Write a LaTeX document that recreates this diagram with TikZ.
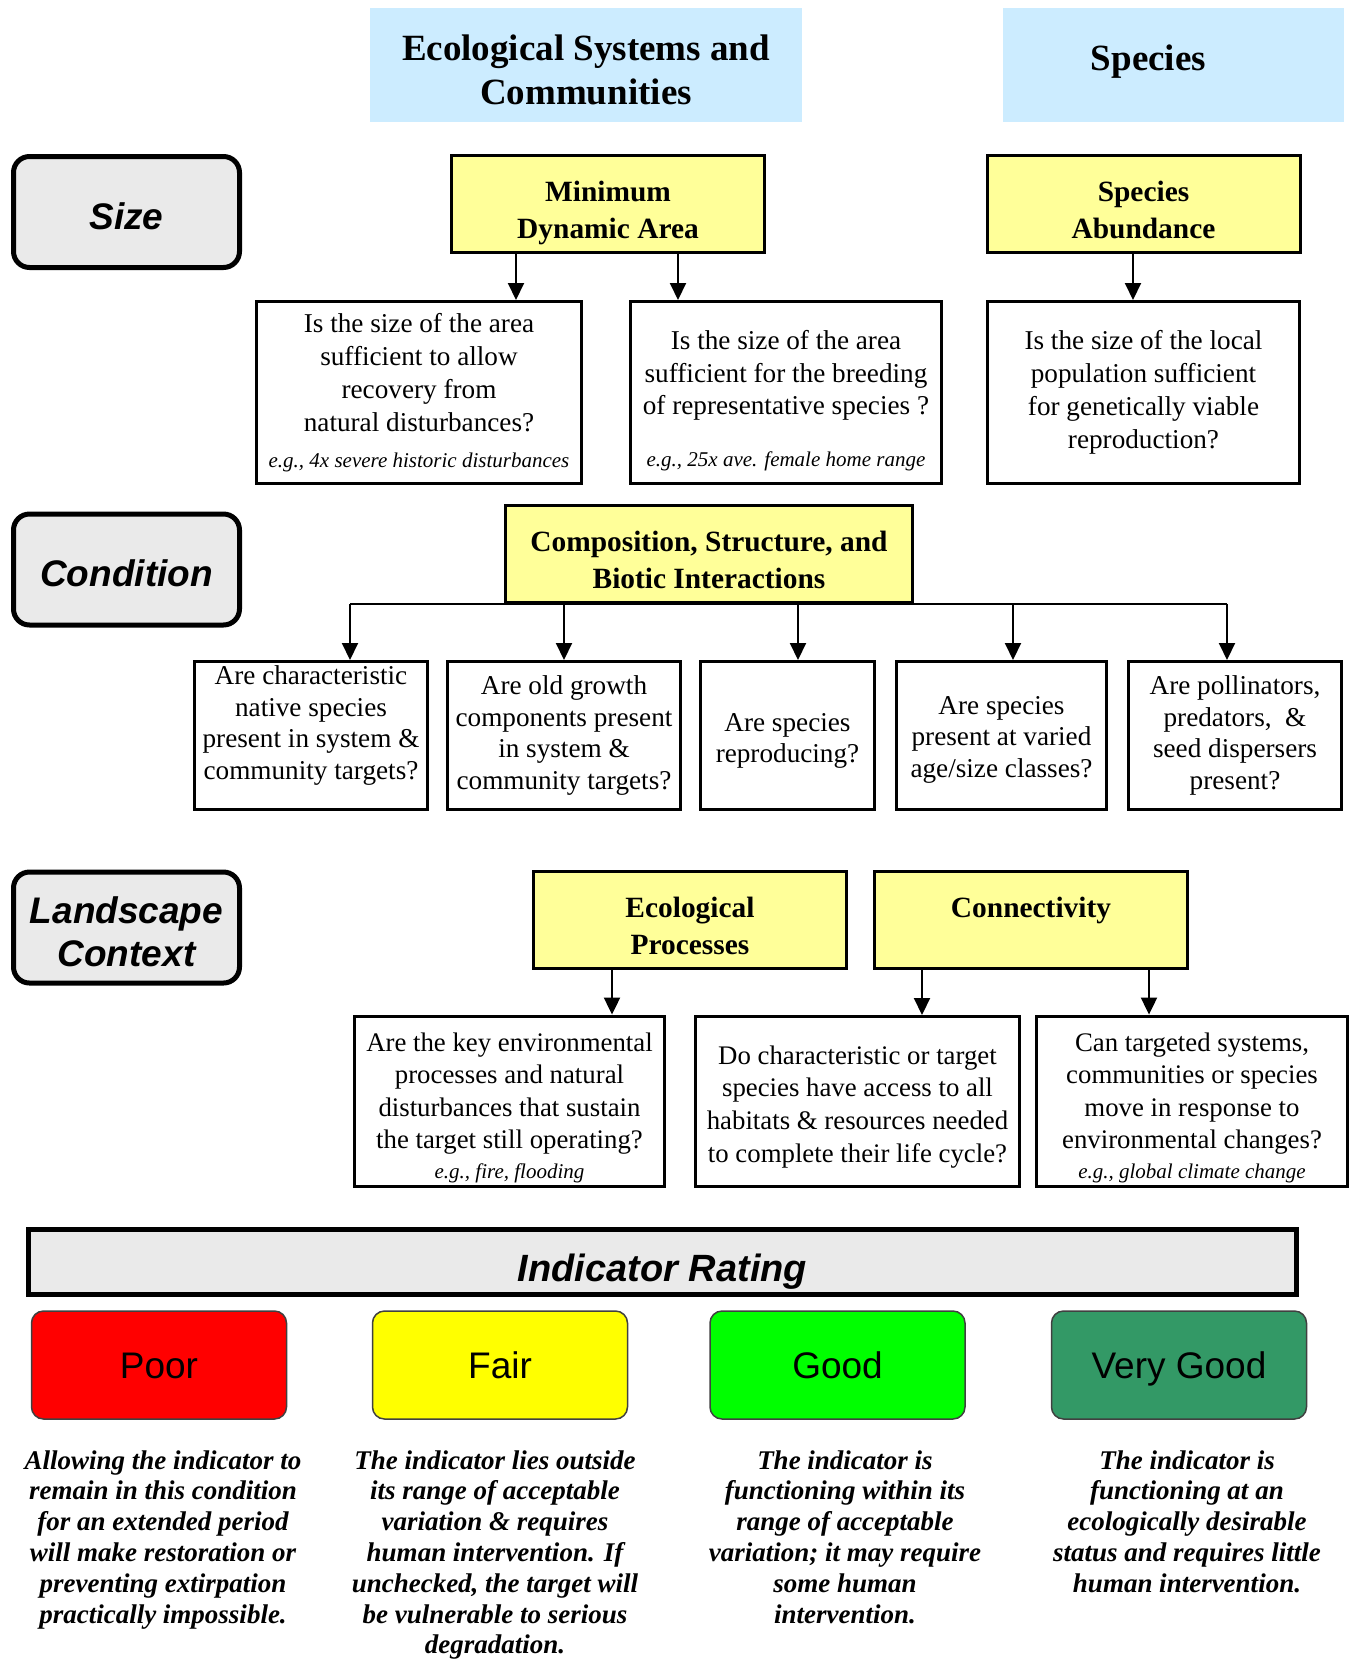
\documentclass[tikz,border=0pt]{standalone}
\usepackage{fontspec}
\setmainfont{Liberation Serif}
\setsansfont{Liberation Sans}
\usetikzlibrary{arrows.meta}

\definecolor{hdrblue}{RGB}{204,236,255}
\definecolor{ylw}{RGB}{255,255,153}
\definecolor{lblgray}{RGB}{234,234,234}
\definecolor{fairyel}{RGB}{255,255,0}
\definecolor{goodgrn}{RGB}{0,255,0}
\definecolor{vgoodgrn}{RGB}{51,153,102}

\begin{document}
\begin{tikzpicture}[x=0.5pt,y=-0.5pt,
  hdr/.style={fill=hdrblue, minimum height=57pt, align=center, inner sep=2pt,
    font=\fontsize{18.5}{22}\selectfont\bfseries},
  side/.style={draw, fill=lblgray, line width=2.5pt, rounded corners=8pt,
    minimum width=113pt, minimum height=55.5pt, align=center, inner sep=2pt,
    font=\fontsize{18.5}{21.7}\selectfont\sffamily\bfseries\itshape},
  ybox/.style={draw, fill=ylw, line width=1.5pt, minimum width=156.5pt,
    minimum height=48.5pt, align=center, inner sep=2pt,
    font=\fontsize{14.7}{18.5}\selectfont\bfseries},
  qbox/.style={draw, fill=white, line width=1.5pt, align=center, inner sep=2pt,
    font=\fontsize{13.6}{16.4}\selectfont},
  rate/.style={draw=black!75, line width=0.75pt, rounded corners=6pt,
    minimum width=127.5pt, minimum height=54pt, text height=13.3pt, text depth=0pt,
    font=\fontsize{18.5}{22}\selectfont\sffamily},
  desc/.style={anchor=north, align=center, inner sep=0pt,
    font=\fontsize{13.5}{15.4}\selectfont\bfseries\itshape},
  conn/.style={line width=1pt},
  arr/.style={conn, -{Triangle[length=8.5pt,width=8pt]}}
]
\def \egsize {\fontsize{10.5}{12}\selectfont\itshape}
\def \padtop #1{\rule{0pt}{#1}}        % taller first line: text sits lower
\def \padbot #1{\rule[-#1]{0pt}{0pt}}  % deeper last line: text sits higher

\useasboundingbox (0,0) rectangle (1352,1661);

% column headers
\node[hdr, minimum width=216pt] (ecohdr) at (586,65) {\padtop{18pt}Ecological Systems and\\Communities};
\node[hdr, minimum width=170.5pt, text depth=7.2pt] (sphdr) at (1173.5,65) {Species\hspace*{25pt}};

% row labels
\node[side] (size) at (126.5,212) {\padtop{17.5pt}Size};
\node[side] (cond) at (126.5,569.5) {\padtop{17.5pt}Condition};
\node[side] (land) at (126.5,927.5) {\padtop{17.5pt}Landscape\\Context};

% size
\node[ybox] (mda) at (608,204) {\padtop{19.6pt}Minimum\\Dynamic Area};
\node[ybox] (abund) at (1143.5,204) {\padtop{16.6pt}Species\\Abundance};

\node[qbox, minimum width=162.5pt, minimum height=91pt] (q1) at (419,392.5)
  {Is the size of the area\\sufficient to allow\\recovery from\\natural disturbances?\\[1.6pt]
   {\egsize e.g., 4x severe historic disturbances}};
\node[qbox, minimum width=155.5pt, minimum height=91pt] (q2) at (786,392.5)
  {\padtop{17.8pt}Is the size of the area\\sufficient for the breeding\\of representative species ?\\[9.6pt]
   {\egsize e.g., 25x ave. female home range}};
\node[qbox, minimum width=156pt, minimum height=91pt] (q3) at (1143.5,392.5)
  {Is the size of the local\\population sufficient\\for genetically viable\\reproduction?};

\draw[arr] (mda.south -| 516,0) -- (q1.north -| 516,0);
\draw[arr] (mda.south -| 678,0) -- (q2.north -| 678,0);
\draw[arr] (abund.south -| 1133,0) -- (q3.north -| 1133,0);

% condition
\node[ybox, minimum width=203.5pt] (comp) at (709,553.5)
  {\padtop{17pt}Composition, Structure, and\\Biotic Interactions};

\node[qbox, minimum width=116.5pt, minimum height=74pt,
  font=\fontsize{13.6}{15.7}\selectfont] (c1) at (311,735.5)
  {Are characteristic\\native species\\present in system \&\\community targets?\padbot{13pt}};
\node[qbox, minimum width=116.5pt, minimum height=74pt,
  font=\fontsize{13.6}{15.7}\selectfont] (c2) at (564,735.5)
  {Are old growth\\components present\\in system \&\\community targets?};
\node[qbox, minimum width=87pt, minimum height=74pt,
  font=\fontsize{13.6}{15.7}\selectfont] (c3) at (787.5,735.5)
  {\padtop{14.3pt}Are species\\reproducing?};
\node[qbox, minimum width=105pt, minimum height=74pt,
  font=\fontsize{13.6}{15.7}\selectfont] (c4) at (1001.5,735.5)
  {\padtop{13.2pt}Are species\\present at varied\\age/size classes?};
\node[qbox, minimum width=106.5pt, minimum height=74pt,
  font=\fontsize{13.6}{15.7}\selectfont] (c5) at (1235,735.5)
  {Are pollinators,\\predators, \ \&\\seed dispersers\\present?};

\draw[conn] (comp.south -| 350,0) -- (comp.south -| 1227,0);
\foreach \x/\n in {350/c1, 564/c2, 798/c3, 1013/c4, 1227/c5}
  \draw[arr] (comp.south -| \x,0) -- (\n.north -| \x,0);

% landscape context
\node[ybox] (ecoproc) at (690,920) {\padtop{16pt}Ecological\\Processes};
\node[ybox] (connect) at (1031,920) {\padtop{16pt}Connectivity\\\mbox{}};

\node[qbox, minimum width=155pt, minimum height=85pt,
  font=\fontsize{13.4}{16.3}\selectfont] (l1) at (509.5,1101.5)
  {\padtop{15.5pt}Are the key environmental\\processes and natural\\disturbances that sustain\\the target still operating?\\[-1.5pt]
   {\egsize e.g., fire, flooding}};
\node[qbox, minimum width=162pt, minimum height=85pt,
  font=\fontsize{13.4}{16.3}\selectfont] (l2) at (857.5,1101.5)
  {\padtop{14.5pt}Do characteristic or target\\species have access to all\\habitats \& resources needed\\to complete their life cycle?};
\node[qbox, minimum width=155.5pt, minimum height=85pt,
  font=\fontsize{13.4}{16.3}\selectfont] (l3) at (1192,1101.5)
  {\padtop{15.5pt}Can targeted systems,\\communities or species\\move in response to\\environmental changes?\\[-1.5pt]
   {\egsize e.g., global climate change}};

\draw[arr] (ecoproc.south -| 612,0) -- (l1.north -| 612,0);
\draw[arr] (connect.south -| 922,0) -- (l2.north -| 922,0);
\draw[arr] (connect.south -| 1149,0) -- (l3.north -| 1149,0);

% rating scale
\node[draw, fill=lblgray, line width=2.5pt, minimum width=634pt, minimum height=32.5pt,
  inner sep=0pt, text height=23pt,
  font=\fontsize{19}{22}\selectfont\sffamily\bfseries\itshape] (rating) at (662.5,1262)
  {Indicator Rating};

\foreach \nm/\col/\cx/\lbl in {poor/red/159/Poor, fair/fairyel/500/Fair,
    good/goodgrn/837.5/Good, vgood/vgoodgrn/1179/Very Good}
  \node[rate, fill=\col] (\nm) at (\cx,1365) {\lbl};

\node[desc] (poortxt) at (163,1450)
  {Allowing the indicator to\\remain in this condition\\for an extended period\\will make restoration or\\preventing extirpation\\practically impossible.};
\node[desc] (fairtxt) at (495,1450)
  {The indicator lies outside\\its range of acceptable\\variation \& requires\\human intervention. If\\unchecked, the target will\\be vulnerable to serious\\degradation.};
\node[desc] (goodtxt) at (845,1450)
  {The indicator is\\functioning within its\\range of acceptable\\variation; it may require\\some human\\intervention.};
\node[desc] (vgoodtxt) at (1187,1450)
  {The indicator is\\functioning at an\\ecologically desirable\\status and requires little\\human intervention.};
\end{tikzpicture}
\end{document}
